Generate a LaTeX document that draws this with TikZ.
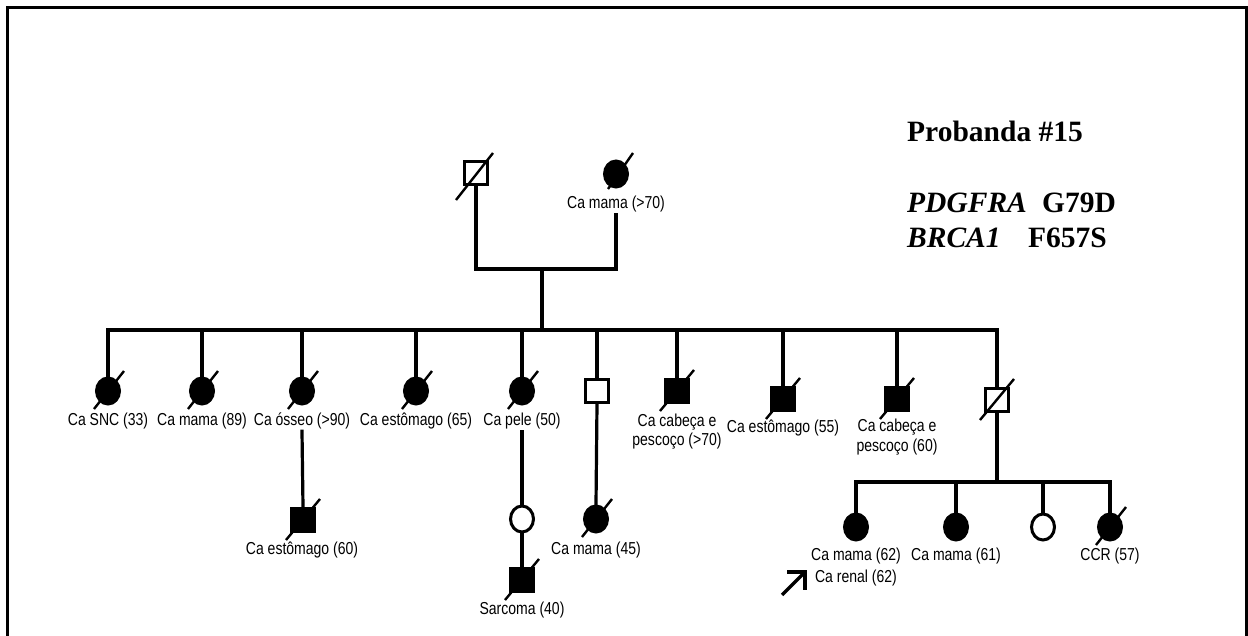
\documentclass[tikz,border=0pt]{standalone}
\usepackage{fontspec}
\setmainfont{Liberation Sans}
\newfontfamily\narrowsans[FakeStretch=0.81]{Liberation Sans}
\newfontfamily\titlefont{Liberation Serif}
\usetikzlibrary{shapes.geometric,calc}

% slash through the symbol of a deceased person
\newcommand\markdead[1]{\draw[slash] ([shift={(-14,18)}]#1.center) -- ([shift={(16,-20)}]#1.center);}
\newcommand\markdeadsq[1]{\draw[slash] ([shift={(-17,20)}]#1.center) -- ([shift={(17,-21)}]#1.center);}

\begin{document}
\begin{tikzpicture}[x=1pt,y=-1pt,
  lbl/.style={font=\narrowsans\fontsize{17.3}{19}\selectfont, inner sep=0pt, anchor=base},
  ttl/.style={font=\titlefont\fontsize{29.5}{32}\selectfont\bfseries, inner sep=0pt, anchor=base west},
  fem/.style={ellipse, draw, line width=3pt, minimum width=23pt, minimum height=26pt, inner sep=0pt},
  male/.style={rectangle, draw, line width=3pt, minimum size=23pt, inner sep=0pt},
  aff/.style={fill=black},
  unaff/.style={fill=white},
  link/.style={line width=3.2pt, line cap=rect},
  slash/.style={line width=2.4pt},
]
\useasboundingbox (0,0) rectangle (1248,635);
\fill[white] (0,0) rectangle (1248,635);

% outer frame
\draw[line width=3pt] (7,650) -- (7,7) -- (1246,7) -- (1246,650);

% legend
\node[ttl] (title) at (907,141) {Probanda \#15};
\node[ttl] (gene1) at (907,212) {\itshape PDGFRA};
\node[ttl] (var1)  at (1042,212) {G79D};
\node[ttl] (gene2) at (907,247) {\itshape BRCA1};
\node[ttl] (var2)  at (1028,247) {F657S};

% generation I
\node[male, unaff] (g1m) at (476,173) {};
\node[fem, aff]    (g1f) at (616,174) {};
\node[lbl] (lg1f) at (616,208) {Ca mama (>70)};
\coordinate (mL) at (476,269);
\coordinate (mR) at (616,269);
\coordinate (cpl) at (542,269);
\coordinate (sibL) at (108,330);
\coordinate (sibR) at (997,330);
\draw[link] (g1m.south) -- (mL) -- (mR) -- ([yshift=-3pt]lg1f.south);
\draw[link] (cpl) -- (cpl |- sibL);
\draw[link] (sibL) -- (sibR);
\draw[slash] ([shift={(-20,27)}]g1m.center) -- ([shift={(17,-20)}]g1m.center);
\draw[slash] ([shift={(-8,15)}]g1f.center) -- ([shift={(17,-21)}]g1f.center);

% generation II
\node[fem, aff]    (c1)  at (108,391) {};
\node[fem, aff]    (c2)  at (202,391) {};
\node[fem, aff]    (c3)  at (302,391) {};
\node[fem, aff]    (c4)  at (416,391) {};
\node[fem, aff]    (c5)  at (522,391) {};
\node[male, unaff] (c6)  at (597,391) {};
\node[male, aff]   (c7)  at (677,391) {};
\node[male, aff]   (c8)  at (783,399) {};
\node[male, aff]   (c9)  at (897,399) {};
\node[male, unaff] (c10) at (997,400) {};
\foreach \n in {c1,c2,c3,c4,c5,c6,c7,c8,c9,c10}
  {\draw[link] (\n.north) -- (\n.north |- sibL);}
\foreach \n in {c1,c2,c3,c4,c5} {\markdead{\n}}
\foreach \n in {c7,c8,c9,c10} {\markdeadsq{\n}}

\node[lbl] (lc1)  at (108,425.5) {Ca SNC (33)};
\node[lbl] (lc2)  at (202,425.5) {Ca mama (89)};
\node[lbl] (lc3)  at (302,425.5) {Ca ósseo (>90)};
\node[lbl] (lc4)  at (416,425.5) {Ca estômago (65)};
\node[lbl] (lc5)  at (522,425.5) {Ca pele (50)};
\node[lbl] (lc7a) at (677,426.5) {Ca cabeça e};
\node[lbl] (lc7b) at (677,445.5) {pescoço (>70)};
\node[lbl] (lc8)  at (783,432.5) {Ca estômago (55)};
\node[lbl] (lc9a) at (897,431.5) {Ca cabeça e};
\node[lbl] (lc9b) at (897,451.5) {pescoço (60)};

% generation III
\node[male, aff]  (g3a) at (303,520) {};
\node[fem, unaff] (g3b) at (522,519) {};
\node[male, aff]  (g3s) at (522,580) {};
\node[fem, aff]   (g3c) at (596,519) {};
\markdeadsq{g3a}
\markdeadsq{g3s}
\markdead{g3c}
\draw[link] ([yshift=-2pt]lc3.south) -- (g3a.north);
\draw[link] ([yshift=-2pt]lc5.south) -- (g3b.north);
\draw[link] (g3b.south) -- (g3s.north);
\draw[link] (c6.south) -- (g3c.north);
\node[lbl] (lg3a) at (302,554) {Ca estômago (60)};
\node[lbl] (lg3s) at (522,614) {Sarcoma (40)};
\node[lbl] (lg3c) at (596,554) {Ca mama (45)};

\node[fem, aff]   (d1) at (856,527) {};
\node[fem, aff]   (d2) at (956,527) {};
\node[fem, unaff] (d3) at (1043,527) {};
\node[fem, aff]   (d4) at (1110,527) {};
\markdead{d4}
\coordinate (s2) at (997,482);
\coordinate (s2L) at (856,482);
\coordinate (s2R) at (1110,482);
\draw[link] (c10.south) -- (s2);
\draw[link] (s2L) -- (s2R);
\foreach \n in {d1,d2,d3,d4}
  {\draw[link] (\n.north) -- (\n.north |- s2L);}
\node[lbl] (ld1a) at (856,560.5) {Ca mama (62)};
\node[lbl] (ld1b) at (856,582.5) {Ca renal (62)};
\node[lbl] (ld2)  at (956,560.5) {Ca mama (61)};
\node[lbl] (ld4)  at (1110,560.5) {CCR (57)};

% proband arrow
\coordinate (arrT) at (805,572);
\coordinate (arrB) at (782,595);
\draw[line width=3.4pt] (arrB) -- (arrT);
\draw[line width=3.4pt, miter limit=10] ([shift={(-18,0)}]arrT) -- (arrT) -- ([shift={(0,18)}]arrT);
\end{tikzpicture}
\end{document}
